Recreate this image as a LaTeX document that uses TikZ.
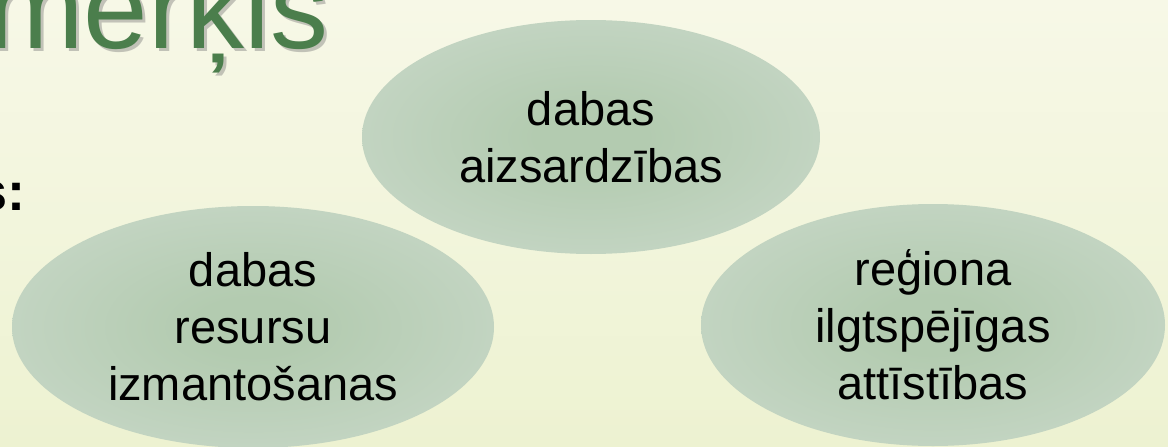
\documentclass[tikz,border=0pt]{standalone}
\usepackage{fontspec}
\setmainfont{Liberation Sans}
\usetikzlibrary{shapes.geometric}

\definecolor{fonsaugsa}{HTML}{F7F8E7}
\definecolor{fonsapaksa}{HTML}{EDF2D1}
\definecolor{elipsecentrs}{HTML}{B3CBB0}
\definecolor{elipsemala}{HTML}{D6E0D8}
\definecolor{virsrakstazals}{HTML}{4B7E4C}

\pgfdeclareradialshading{elipsesena}{\pgfpoint{0bp}{0bp}}{color(0bp)=(elipsecentrs); color(6bp)=(elipsecentrs); color(50bp)=(elipsemala)}

\tikzset{
  merkaelipse/.style={ellipse, shading=elipsesena, inner sep=0pt, align=center,
    font=\fontsize{47}{57}\selectfont},
}

\begin{document}
\begin{tikzpicture}[x=1pt, y=-1pt]
  \useasboundingbox (0,0) rectangle (1168,447);
  \fill[top color=fonsaugsa, bottom color=fonsapaksa] (0,0) rectangle (1168,447);
  % virsraksts ar ena
  \node[anchor=base west, inner sep=0pt, text=black!55, opacity=0.4,
    font=\fontsize{116}{116}\selectfont] (virsrakstaena) at (-10,51) {merķis};
  \node[anchor=base west, inner sep=0pt, text=virsrakstazals,
    font=\fontsize{116}{116}\selectfont] (virsraksts) at (-13,48) {merķis};
  \node[anchor=base west, inner sep=0pt,
    font=\fontsize{54}{54}\selectfont\bfseries] (kolons) at (-23,210) {s:};
  % trīs elipses
  \node[merkaelipse, minimum width=458, minimum height=234] (aizsardziba)
    at (591,137) {dabas\\aizsardzības};
  \node[merkaelipse, minimum width=482, minimum height=242] (resursi)
    at (253,327) {dabas\\resursu\\izmantošanas};
  \node[merkaelipse, minimum width=464, minimum height=242] (attistiba)
    at (933,325) {reģiona\\ilgtspējīgas\\attīstības};
\end{tikzpicture}
\end{document}
